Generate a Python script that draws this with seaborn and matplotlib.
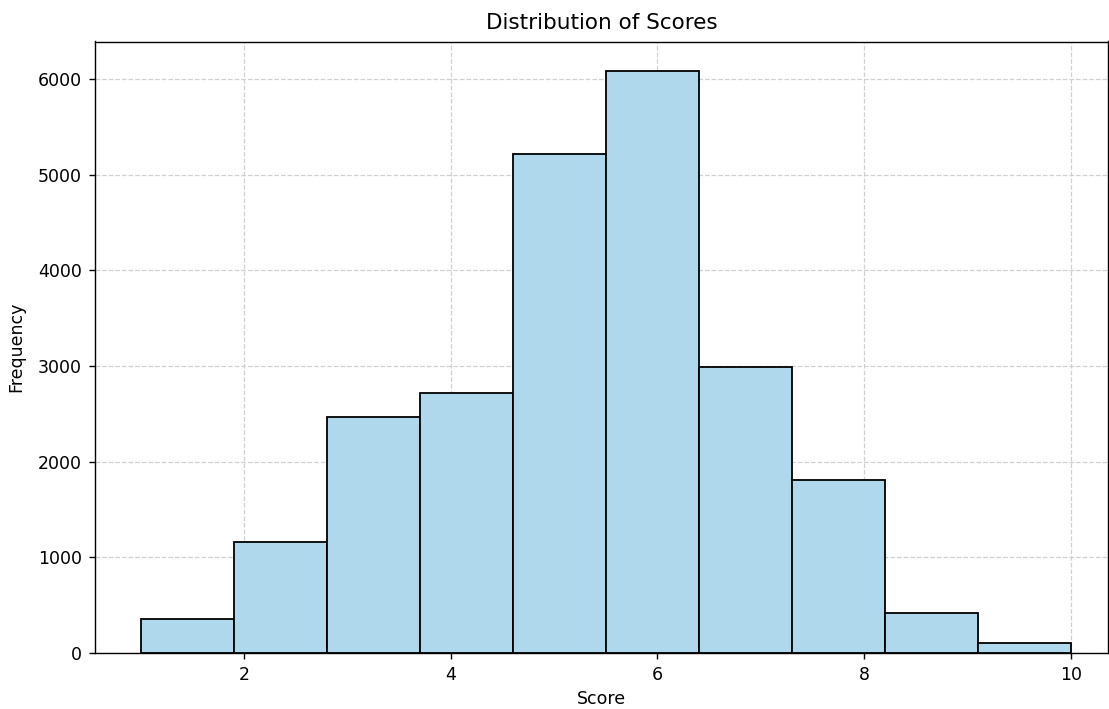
import numpy as np
import pandas as pd
import matplotlib
matplotlib.use("Agg")
import matplotlib.pyplot as plt
import seaborn as sns

# Data
bin_edges = [1.0, 1.9, 2.8, 3.7, 4.6, 5.5, 6.4, 7.3, 8.2, 9.1, 10.0]
counts = [353, 1165, 2464, 2719, 5215, 6089, 2995, 1810, 416, 102]
title = "Distribution of Scores"
xlabel = "Score"
ylabel = "Frequency"

centers = [(a + b) / 2 for a, b in zip(bin_edges[:-1], bin_edges[1:])]
df = pd.DataFrame({"score": centers, "count": counts})

fig = plt.figure(figsize=(11.09, 7.09), dpi=100)
ax = fig.add_axes([95 / 1109, 1 - 653 / 709, (1108 - 95) / 1109, (653 - 41.5) / 709])

sns.histplot(data=df, x="score", weights="count", bins=bin_edges,
             color="#B0D8EC", alpha=1.0, edgecolor="black", linewidth=1.3, ax=ax)

ax.set_xlim(0.559, 10.36)
ax.set_ylim(0, 6089 * 1.05)
ax.set_title(title, fontsize=15.5, pad=9)
ax.set_xlabel(xlabel, fontsize=12.5, labelpad=4)
ax.set_ylabel(ylabel, fontsize=12.5, labelpad=9)
ax.tick_params(labelsize=12.5, length=4.5, pad=5, width=1.0)
for s in ax.spines.values():
    s.set_linewidth(1.0)
ax.grid(True, linestyle="--", color="#cccccc", linewidth=0.9, alpha=0.9)
ax.set_axisbelow(True)

fig.savefig("out.png", dpi=100)
